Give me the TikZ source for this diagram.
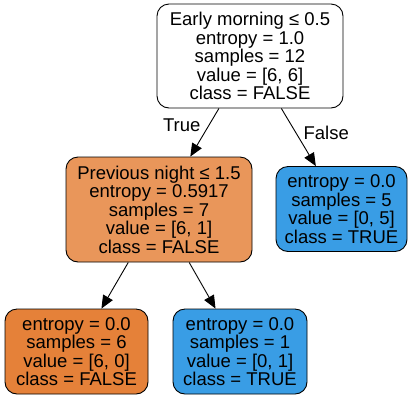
\documentclass[tikz,border=0pt]{standalone}
\usepackage{fontspec}
\setmainfont{Liberation Sans}
\usetikzlibrary{arrows.meta}

\definecolor{falsecol}{RGB}{229,129,57}
\definecolor{mixcol}{RGB}{233,150,90}
\definecolor{truecol}{RGB}{57,157,229}

\begin{document}
\begin{tikzpicture}[x=1pt,y=-1pt,
	treenode/.style={draw=black,line width=0.9pt,rounded corners=12pt,align=center,inner sep=0pt,font=\fontsize{18.5}{18.5}\selectfont},
	leafnode/.style={treenode,minimum height=85pt},
	edgelabel/.style={font=\fontsize{18.5}{18.5}\selectfont,inner sep=1pt},
	branch/.style={line width=0.9pt,-{Triangle[length=13pt,width=11pt]}}]
	\useasboundingbox (0,0) rectangle (417,400);
	\node[treenode,fill=white,minimum width=186pt,minimum height=104pt] (root) at (250,56) {Early morning ≤ 0.5\\entropy = 1.0\\samples = 12\\value = [6, 6]\\class = FALSE};
	\node[treenode,fill=mixcol,minimum width=186pt,minimum height=105pt] (prev) at (159,209.5) {Previous night ≤ 1.5\\entropy = 0.5917\\samples = 7\\value = [6, 1]\\class = FALSE};
	\node[leafnode,fill=truecol,minimum width=131pt] (early) at (341.5,209) {entropy = 0.0\\samples = 5\\value = [0, 5]\\class = TRUE};
	\node[leafnode,fill=falsecol,minimum width=143pt] (nightf) at (76.5,351.5) {entropy = 0.0\\samples = 6\\value = [6, 0]\\class = FALSE};
	\node[leafnode,fill=truecol,minimum width=134pt] (nightt) at (240,351.5) {entropy = 0.0\\samples = 1\\value = [0, 1]\\class = TRUE};
	\draw[branch] (root) -- (prev) node[edgelabel,pos=0.35,left=7pt] {True};
	\draw[branch] (root) -- (early) node[edgelabel,pos=0.43,right=6pt] {False};
	\draw[branch] (prev) -- (nightf);
	\draw[branch] (prev) -- (nightt);
\end{tikzpicture}
\end{document}
